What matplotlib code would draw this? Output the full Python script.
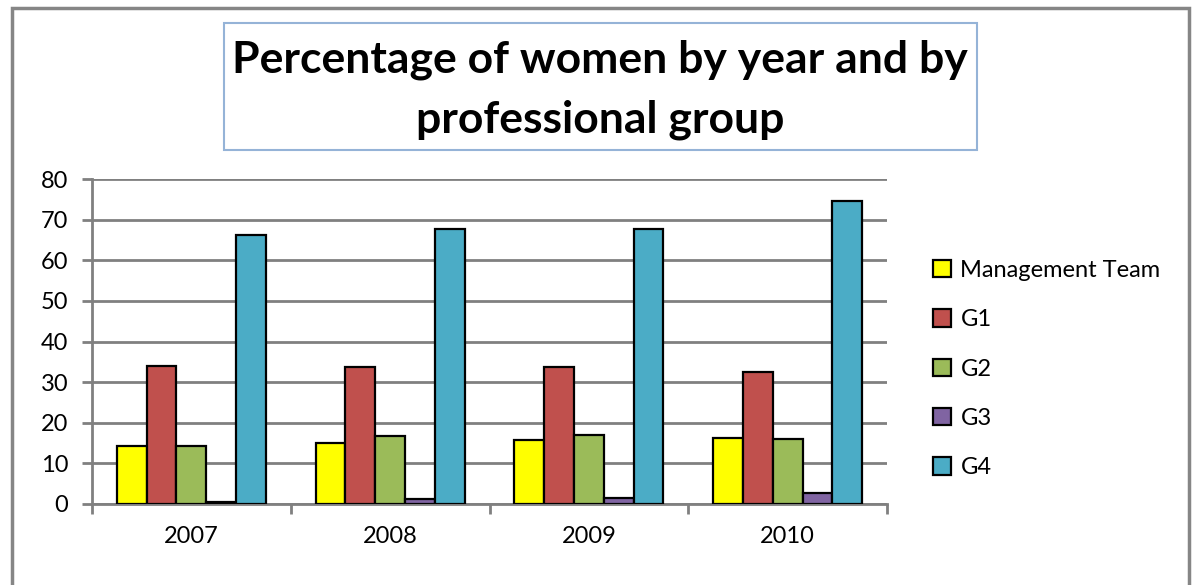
import numpy as np
import matplotlib.pyplot as plt
from matplotlib.patches import Rectangle

plt.rcParams['font.family'] = ['Lato', 'DejaVu Sans']

years = ["2007", "2008", "2009", "2010"]
groups = ["Management Team", "G1", "G2", "G3", "G4"]
management = [14.4, 15.0, 15.7, 16.3]
g1 = [33.9, 33.7, 33.7, 32.5]
g2 = [14.4, 16.7, 17.0, 15.9]
g3 = [0.4, 1.3, 1.6, 2.6]
g4 = [66.1, 67.7, 67.8, 74.5]
colors = ["#FFFF00", "#C0504D", "#9BBB59", "#8064A2", "#4BACC6"]

series = [management, g1, g2, g3, g4]

fig = plt.figure(figsize=(11.94, 5.85), dpi=100)

# outer chart frame
fig.patches.append(Rectangle((12 / 1194, -0.01), 1177 / 1194, 1 - 8 / 585 + 0.01,
                             transform=fig.transFigure, fill=False,
                             edgecolor="#868686", linewidth=2.5))

# title box
fig.patches.append(Rectangle((224 / 1194, 1 - 150 / 585), 753 / 1194, 127 / 585,
                             transform=fig.transFigure, facecolor="white",
                             edgecolor="#95B3D7", linewidth=1.5))

ax = fig.add_axes([92 / 1194, 1 - 504 / 585, 795 / 1194, 325 / 585])

x = np.arange(len(years))
width = 0.15
for i, (vals, name, c) in enumerate(zip(series, groups, colors)):
    ax.bar(x + (i - 2) * width, vals, width, color=c, edgecolor="black",
           linewidth=1.6, label=name, zorder=3)

ax.set_xlim(-0.5, 3.5)
ax.set_ylim(0, 80)
ax.set_yticks(range(0, 81, 10))
ax.set_xticks(x)
ax.set_xticklabels(years)
ax.set_xticks(np.arange(-0.5, 4, 1), minor=True)
ax.tick_params(axis="x", which="major", length=0, pad=16, labelsize=17)
ax.tick_params(axis="x", which="minor", length=7, color="#808080", width=2)
ax.tick_params(axis="y", length=7, color="#808080", width=2, labelsize=17, pad=10)
ax.grid(axis="y", color="#808080", linewidth=2, zorder=0)
for s in ["top", "right"]:
    ax.spines[s].set_visible(False)
ax.spines["left"].set_color("#808080")
ax.spines["left"].set_linewidth(2)
ax.spines["bottom"].set_color("#808080")
ax.spines["bottom"].set_linewidth(2)

fig.legend(loc="center left", bbox_to_anchor=(912 / 1194, 1 - 369 / 585),
           frameon=False, fontsize=17, handlelength=0.75, handleheight=0.75,
           labelspacing=1.2, handletextpad=0.4)

fig.text(600 / 1194, 1 - 90 / 585,
         "Percentage of women by year and by\nprofessional group",
         ha="center", va="center", fontsize=32, fontweight="bold",
         linespacing=1.6)

fig.savefig("out.png", dpi=100)
